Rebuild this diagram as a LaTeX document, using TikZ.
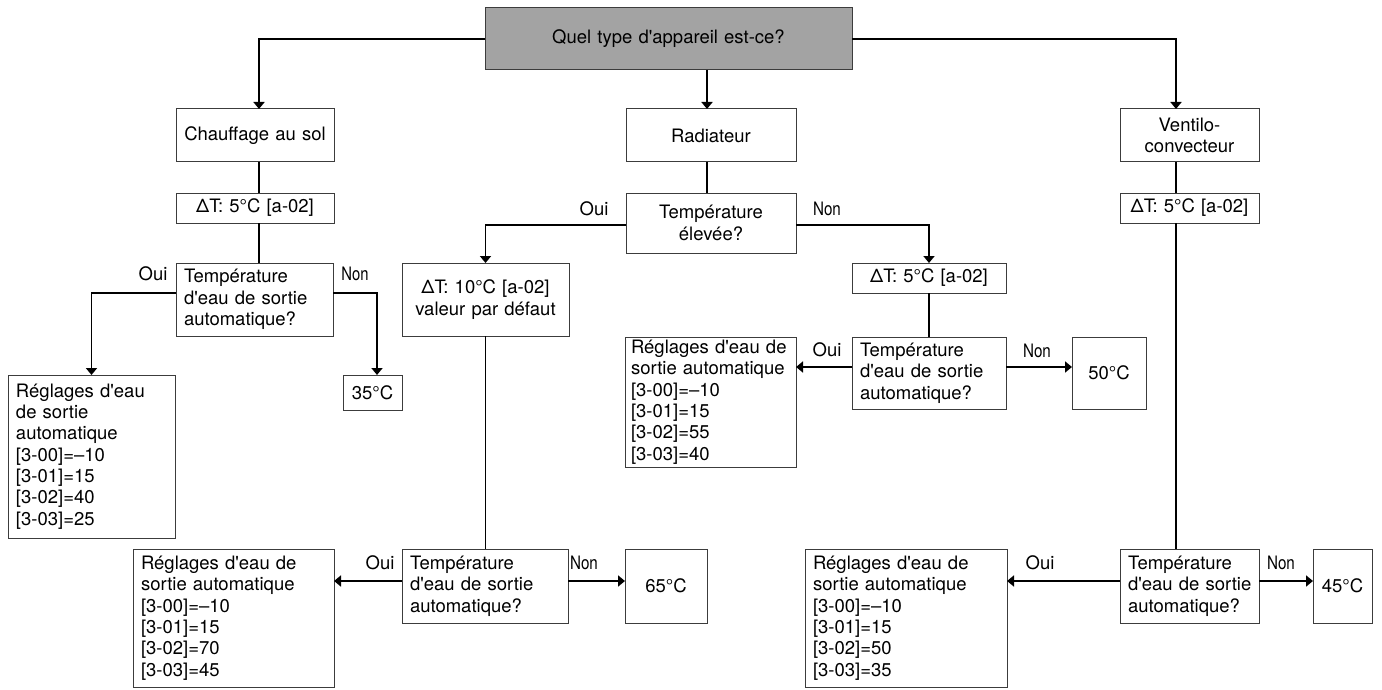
\documentclass[tikz,border=0pt]{standalone}
\usepackage{fontspec}
\setmainfont{TeX Gyre Heros}[Ligatures=TeXOff]
\usetikzlibrary{arrows.meta}
\definecolor{boxc}{RGB}{60,60,60}
\definecolor{topfill}{RGB}{163,163,163}
\newcommand\mybox[7][]{%
  \pgfmathsetmacro\bw{#5-#3}%
  \pgfmathsetmacro\bh{#6-#4}%
  \pgfmathsetmacro\tw{#5-#3-16}%
  \node[box,minimum width=\bw pt,minimum height=\bh pt,text width=\tw pt,#1] (#2) at (#3,#4) {#7};}
\begin{document}
\begin{tikzpicture}[x=1pt,y=-1pt,
  box/.style={draw=boxc,line width=1pt,inner xsep=8pt,inner ysep=0pt,outer sep=0pt,anchor=north west,
    font=\fontsize{18.5}{21.3}\selectfont},
  lft/.style={align=left},
  ctr/.style={align=center},
  conn/.style={line width=1.8pt,draw=black},
  arr/.style={-{Triangle[width=11pt,length=7pt]}},
  lbl/.style={font=\fontsize{18.5}{21.3}\selectfont,inner sep=0pt}]
\useasboundingbox (0,0) rectangle (1382,690);
% boxes
\mybox[ctr,fill=topfill]{top}{485}{8}{852}{70}{Quel type d'appareil est-ce?}
\mybox[ctr]{chauf}{176}{109}{334}{162}{Chauffage au sol}
\mybox[ctr]{dTa}{176}{193}{334}{223}{ΔT: 5°C [a-02]}
\mybox[lft]{qa}{176}{263}{333}{336}{Température\\d'eau de sortie\\automatique?}
\mybox[lft]{rega}{8}{375}{175}{538}{Réglages d'eau\\de sortie\\automatique\\{[3-00]}=–10\\{[3-01]}=15\\{[3-02]}=40\\{[3-03]}=25}
\mybox[ctr,inner xsep=4pt]{tthirtyfive}{343}{375}{402}{410}{35°C}
\mybox[ctr]{rad}{626}{109}{796}{162}{Radiateur}
\mybox[ctr]{qhigh}{626}{193}{796}{253}{Température\\élevée?}
\mybox[ctr]{dTten}{402}{263}{569}{336}{ΔT: 10°C [a-02]\\valeur par défaut}
\mybox[ctr]{dTb}{852}{263}{1006}{293}{ΔT: 5°C [a-02]}
\mybox[lft]{qb}{852}{337}{1006}{409}{Température\\d'eau de sortie\\automatique?}
\mybox[lft,inner xsep=6pt,text width=159pt]{regb}{625}{337}{796}{467}{Réglages d'eau de\\sortie automatique\\{[3-00]}=–10\\{[3-01]}=15\\{[3-02]}=55\\{[3-03]}=40}
\mybox[ctr,inner xsep=4pt]{tfifty}{1072}{337}{1146}{409}{50°C}
\mybox[lft]{qc}{402}{549}{568}{623}{Température\\d'eau de sortie\\automatique?}
\mybox[lft]{regc}{133}{549}{334}{687}{Réglages d'eau de\\sortie automatique\\{[3-00]}=–10\\{[3-01]}=15\\{[3-02]}=70\\{[3-03]}=45}
\mybox[ctr,inner xsep=4pt]{tsixtyfive}{625}{549}{707}{623}{65°C}
\mybox[ctr]{vent}{1120}{109}{1259}{162}{Ventilo-\\convecteur}
\mybox[ctr]{dTc}{1120}{193}{1259}{223}{ΔT: 5°C [a-02]}
\mybox[lft]{qd}{1120}{549}{1259}{623}{Température\\d'eau de sortie\\automatique?}
\mybox[lft]{regd}{805}{549}{1007}{687}{Réglages d'eau de\\sortie automatique\\{[3-00]}=–10\\{[3-01]}=15\\{[3-02]}=50\\{[3-03]}=35}
\mybox[ctr,inner xsep=4pt]{tfortyfive}{1313}{549}{1372}{623}{45°C}
% helper coordinates
\coordinate (chin) at ([xshift=4pt]chauf.north);
\coordinate (radin) at ([xshift=-4pt]rad.north);
\coordinate (ventin) at ([xshift=-13.5pt]vent.north);
\coordinate (t35in) at ([xshift=4.5pt]tthirtyfive.north);
\coordinate (qaw) at ([yshift=6.5pt]qa.west);
\coordinate (qae) at ([yshift=6.5pt]qa.east);
\coordinate (qhw) at ([yshift=-2pt]qhigh.west);
\coordinate (qhe) at ([yshift=-2pt]qhigh.east);
\coordinate (qbw) at ([yshift=6pt]qb.west);
\coordinate (qbe) at ([yshift=6pt]qb.east);
\coordinate (qcw) at ([yshift=5pt]qc.west);
\coordinate (qce) at ([yshift=5pt]qc.east);
\coordinate (qdw) at ([yshift=5pt]qd.west);
\coordinate (qde) at ([yshift=5pt]qd.east);
% connectors
\draw[conn,arr] (top.west) -| (chin);
\draw[conn,arr] (radin |- top.south) -- (radin);
\draw[conn,arr] (top.east) -| (ventin);
\draw[conn] (chauf.south -| chin) -- (dTa.north -| chin);
\draw[conn] (dTa.south -| chin) -- (qa.north -| chin);
\draw[conn,arr] (qaw) -| (rega.north);
\draw[conn,arr] (qae) -| (t35in);
\draw[conn] (rad.south -| radin) -- (qhigh.north -| radin);
\draw[conn,arr] (qhw) -| (dTten.north);
\draw[conn,arr] (qhe) -| (dTb.north);
\draw[conn] (dTten.south) -- (dTten.south |- qc.north);
\draw[conn] (dTb.south) -- (dTb.south |- qb.north);
\draw[conn,arr] (qbw) -- (qbw -| regb.east);
\draw[conn,arr] (qbe) -- (qbe -| tfifty.west);
\draw[conn,arr] (qcw) -- (qcw -| regc.east);
\draw[conn,arr] (qce) -- (qce -| tsixtyfive.west);
\draw[conn] (vent.south -| ventin) -- (dTc.north -| ventin);
\draw[conn] (dTc.south -| ventin) -- (qd.north -| ventin);
\draw[conn,arr] (qdw) -- (qdw -| regd.east);
\draw[conn,arr] (qde) -- (qde -| tfortyfive.west);
% labels
\node[lbl] (lya) at (153,274) {Oui};
\node[lbl] (lna) at (355,274) {\scalebox{0.8}[1]{Non}};
\node[lbl] (lyh) at (594,209) {Oui};
\node[lbl] (lnh) at (827,209) {\scalebox{0.82}[1]{Non}};
\node[lbl] (lyb) at (827,350) {Oui};
\node[lbl] (lnb) at (1037,351) {\scalebox{0.82}[1]{Non}};
\node[lbl] (lyc) at (380,563) {Oui};
\node[lbl] (lnc) at (584,563) {\scalebox{0.82}[1]{Non}};
\node[lbl] (lyd) at (1040,563) {Oui};
\node[lbl] (lnd) at (1281,563) {\scalebox{0.82}[1]{Non}};
\end{tikzpicture}
\end{document}
